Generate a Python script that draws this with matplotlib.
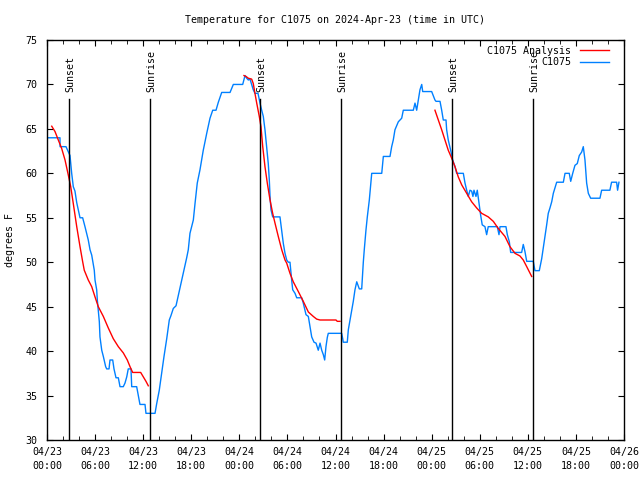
import matplotlib
matplotlib.use("Agg")
import matplotlib.pyplot as plt
import numpy as np

# hours since 2024-04-23 00:00 UTC
obs_hours = [0.16, 1.62, 1.63, 2.37, 2.87, 3.08, 3.28, 3.49, 3.71, 4.12, 4.45, 4.74, 5.15, 5.37,
             5.58, 5.90, 5.99, 6.20, 6.28, 6.53, 6.61, 6.83, 7.03, 7.32, 7.45, 7.74, 7.86, 8.20,
             8.36, 8.61, 8.90, 9.11, 9.52, 9.73, 9.95, 10.14, 10.48, 10.57, 11.19, 11.39, 11.60,
             12.23, 12.35, 13.48, 13.69, 14.01, 14.31, 14.60, 14.94, 15.26, 15.47, 15.76, 16.10,
             16.26, 16.60, 17.01, 17.43, 17.63, 17.84, 18.26, 18.47, 18.75, 19.09, 19.50, 19.93,
             20.34, 20.68, 21.09, 21.38, 21.80, 22.84, 23.25, 24.42, 24.71, 24.92, 25.12, 25.33,
             25.54, 25.74, 25.95, 26.33, 26.58, 26.79, 26.99, 27.20, 27.41, 27.61, 27.74, 27.83,
             27.95, 28.16, 29.07, 29.28, 29.49, 29.70, 29.91, 30.11, 30.32, 30.53, 30.66, 30.95,
             31.16, 31.78, 31.98, 32.32, 32.61, 32.82, 33.03, 33.32, 33.57, 33.85, 34.07, 34.28,
             34.48, 34.65, 34.81, 34.98, 35.10, 36.77, 36.90, 36.97, 37.47, 37.60, 37.81, 38.02,
             38.22, 38.43, 38.65, 38.97, 39.27, 39.39, 39.47, 39.59, 39.80, 39.97, 40.22, 40.52,
             41.77, 41.97, 42.80, 43.01, 43.21, 43.42, 43.84, 44.26, 44.46, 45.71, 45.92, 46.13,
             46.33, 46.54, 46.76, 46.88, 48.00, 48.41, 48.54, 49.04, 49.25, 49.45, 49.79, 49.87,
             50.07, 50.37, 50.62, 50.91, 51.12, 51.95, 52.16, 52.37, 52.57, 52.78, 52.99, 53.15,
             53.28, 53.53, 53.69, 53.94, 54.11, 54.31, 54.65, 54.86, 55.06, 56.19, 56.40, 56.53,
             57.27, 57.44, 57.69, 57.86, 59.23, 59.43, 59.64, 59.86, 60.68, 60.89, 61.43, 61.73,
             61.93, 62.14, 62.35, 62.55, 62.76, 62.98, 63.18, 63.60, 64.43, 64.64, 65.17, 65.35,
             65.60, 65.88, 66.17, 66.42, 66.72, 66.92, 67.13, 67.34, 67.55, 67.84, 69.00, 69.21,
             70.24, 70.45, 71.08, 71.20, 71.37]
obs_temp = [64, 64, 63, 63, 62, 60, 58.5, 58, 56.7, 55, 55, 54, 52.5, 51.4,
            50.8, 49.1, 48, 46.9, 45.75, 43.3, 41.6, 40.1, 39.4, 38.25, 38, 38, 39, 39,
            38, 37, 37, 36, 36, 36.4, 37.1, 38, 38, 36, 36, 35, 34,
            34, 33, 33, 34.1, 35.6, 37.5, 39.4, 41.4, 43.5, 44, 44.8, 45.1,
            45.75, 47.1, 48.8, 50.5, 51.4, 53.25, 54.75, 56.6, 58.9, 60.4, 62.6, 64.5,
            66.2, 67.1, 67.1, 68, 69.1, 69.1, 70, 70, 71, 70.7, 70.5, 70.6,
            70, 69.4, 69, 69, 67.9, 67.1, 66.4, 64.9, 63, 61.1, 59.25, 57.4,
            55.9, 55.1, 55.1, 53.6, 52.1, 51, 50.25, 50, 50, 48, 46.9, 46.5,
            46, 46, 45.4, 44.1, 43.9, 42.75, 41.6, 41, 40.9, 40.1, 40.9, 40.1,
            39.6, 39, 40.5, 41.55, 42, 42, 41.4, 41, 41, 42.4, 43.5, 44.6,
            45.6, 46.9, 47.8, 47, 47, 48.75, 50, 51.4, 53.6, 55.1, 57, 60,
            60, 61.9, 61.9, 63, 63.75, 64.9, 65.8, 66.2, 67.1, 67.1, 67.9, 67.1,
            68.25, 69.4, 70, 69.2, 69.2, 68.25, 68.1, 68.1, 67.1, 66, 66, 64.9,
            63.75, 62.6, 61.5, 60.75, 60, 60, 58.9, 58.1, 57.4, 58.1, 58, 57.4,
            58.1, 57.4, 58.1, 56.4, 55.3, 54.2, 54, 53.1, 54, 54, 53.1, 54,
            54, 53.1, 52.3, 51.1, 51.1, 52, 51.2, 50.1, 50.1, 49.05, 49.05, 50.4,
            51.6, 52.9, 54.2, 55.5, 56.1, 56.8, 57.75, 59, 59, 60, 60, 59.1,
            60, 60.9, 61.1, 62, 62.4, 63, 61.5, 58.9, 57.75, 57.2, 57.2, 58.1,
            58.1, 59, 59, 58.1, 59]

ana1_hours = [0.59, 1.00, 1.41, 1.83, 2.25, 2.66, 2.96, 3.28, 3.71, 4.12, 4.45, 4.65, 5.15, 5.58,
              5.99, 6.40, 7.03, 7.65, 8.27, 8.90, 9.52, 10.02, 10.36, 10.69, 11.69, 12.02, 12.35, 12.64]
ana1_temp = [65.3, 64.7, 63.75, 62.8, 61.5, 59.8, 58.5, 56.6, 54, 51.75, 50.06, 49.1, 48, 47.25,
             46.1, 45, 43.9, 42.6, 41.4, 40.5, 39.8, 39, 38.25, 37.6, 37.6, 37.1, 36.6, 36.1]
ana2_hours = [24.58, 24.83, 25.12, 25.54, 25.74, 25.95, 26.17, 26.49, 26.70, 26.92, 27.20, 27.49,
              27.83, 28.16, 28.45, 28.86, 29.29, 29.70, 29.91, 30.32, 30.73, 31.36, 31.98, 32.61,
              33.23, 33.65, 34.07, 36.06, 36.22, 36.56]
ana2_temp = [71, 70.9, 70.7, 70.6, 70.1, 69, 67.9, 66.4, 65.25, 63, 60.75, 58.9,
             57, 55.5, 54.4, 52.9, 51.4, 50.25, 49.9, 48.75, 47.8, 46.7, 45.6, 44.4,
             43.9, 43.6, 43.5, 43.5, 43.35, 43.35]
ana3_hours = [48.41, 48.83, 49.25, 49.66, 50.07, 50.50, 50.91, 51.32, 51.75, 52.37, 52.99, 53.62,
              54.24, 55.06, 55.69, 56.31, 57.15, 57.77, 58.40, 59.02, 59.43, 59.86, 60.48]
ana3_temp = [67.1, 66, 64.9, 63.75, 62.6, 61.7, 60.75, 59.6, 58.7, 57.75, 56.8, 56.1,
             55.5, 55.1, 54.6, 53.8, 52.9, 51.75, 51, 50.7, 50.25, 49.5, 48.4]

sunset_hours = [2.78, 26.58, 50.57]
sunrise_hours = [12.85, 36.69, 60.68]

xtick_hours = list(range(0, 73, 6))
xtick_labels = ["04/23\n00:00", "04/23\n06:00", "04/23\n12:00", "04/23\n18:00",
                "04/24\n00:00", "04/24\n06:00", "04/24\n12:00", "04/24\n18:00",
                "04/25\n00:00", "04/25\n06:00", "04/25\n12:00", "04/25\n18:00",
                "04/26\n00:00"]
yticks = [30, 35, 40, 45, 50, 55, 60, 65, 70, 75]

plt.rcParams['font.family'] = ['DejaVu Sans Mono']
FS = 7.2

fig = plt.figure(figsize=(6.4, 4.8), dpi=100)
ax = fig.add_axes([47/640, 40/480, 577/640, 400/480])

RED = '#FF0000'
BLUE = '#0080FF'

for i, (h, t) in enumerate([(ana1_hours, ana1_temp), (ana2_hours, ana2_temp), (ana3_hours, ana3_temp)]):
    ax.plot(h, t, color=RED, lw=1.0, label='C1075 Analysis' if i == 0 else None, zorder=3)
ax.plot(obs_hours, obs_temp, color=BLUE, lw=1.0, label='C1075', zorder=2)

trans = ax.get_xaxis_transform()
for name, hours in (("Sunset", sunset_hours), ("Sunrise", sunrise_hours)):
    for h in hours:
        ax.plot([h, h], [0, 0.8525], color='black', lw=1.0, transform=trans, zorder=4)
        ax.text(h + 0.12, 0.87, name, rotation=90, ha='center', va='bottom',
                transform=trans, fontsize=FS)

ax.set_xlim(0, 72)
ax.set_ylim(30, 75)
ax.set_xticks(xtick_hours)
ax.set_xticklabels(xtick_labels, fontsize=FS, linespacing=1.45)
ax.set_xticks(np.arange(0, 73, 2), minor=True)
ax.set_yticks(yticks)
ax.set_yticklabels([str(v) for v in yticks], fontsize=FS)
ax.tick_params(axis='both', which='both', direction='in', top=True, right=True)
ax.tick_params(axis='y', which='major', length=4, pad=7)
ax.tick_params(axis='x', which='major', length=4, pad=5)
ax.tick_params(axis='x', which='minor', length=3)
for s in ax.spines.values():
    s.set_linewidth(1.0)

ax.set_ylabel('degrees F', fontsize=FS)
ax.yaxis.set_label_coords(-0.056, 0.5)
fig.text(335/640, 1 - 20/480, 'Temperature for C1075 on 2024-Apr-23 (time in UTC)',
         ha='center', va='center', fontsize=FS)

leg = ax.legend(loc='upper right', bbox_to_anchor=(0.9745, 0.985), frameon=False,
                markerfirst=False, fontsize=FS, handlelength=2.9, handletextpad=0.9,
                labelspacing=0.13, borderaxespad=0.0, borderpad=0.0)

fig.savefig('out.png', dpi=100)
